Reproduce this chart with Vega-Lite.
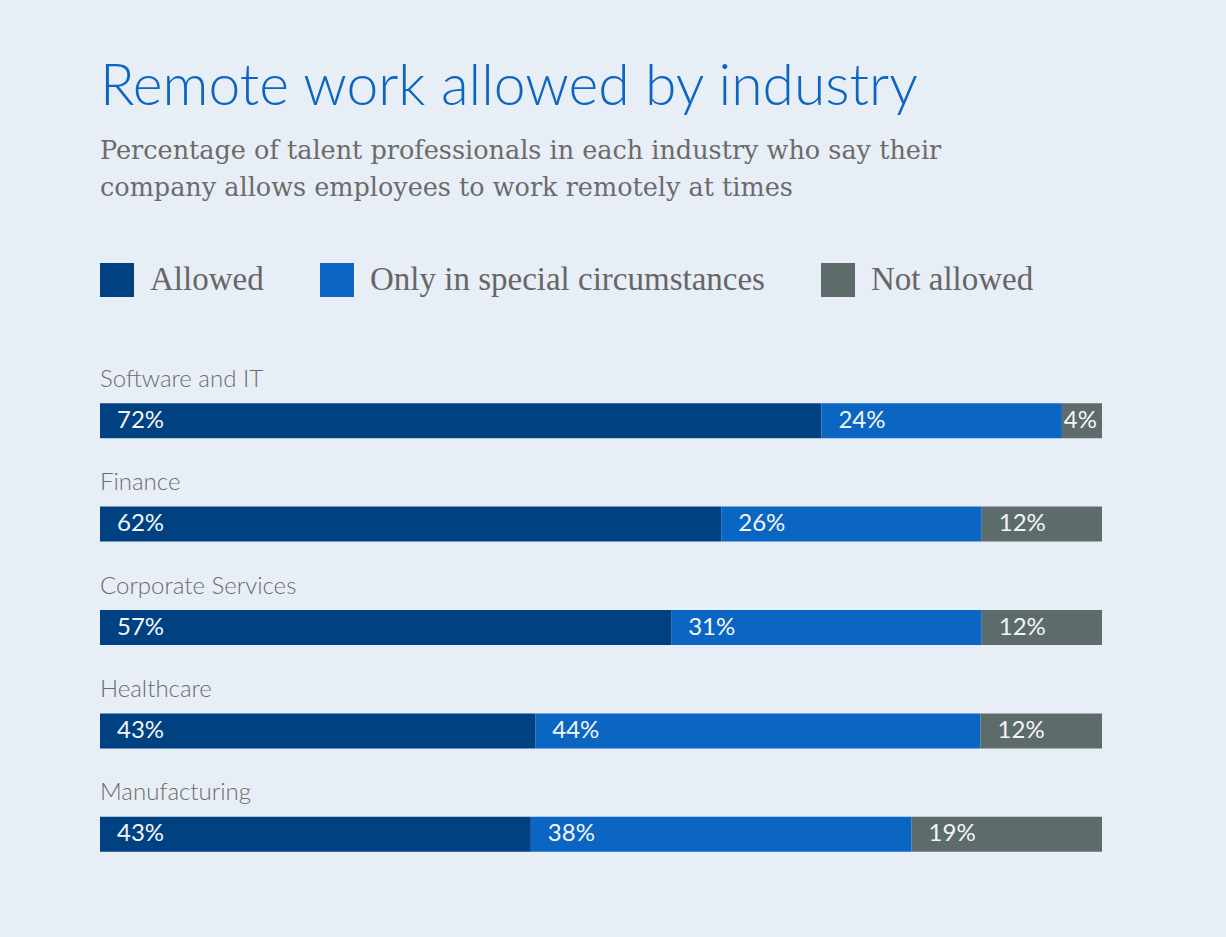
{
  "$schema": "https://vega.github.io/schema/vega-lite/v6.json",
  "width": 1002,
  "height": 517,
  "autosize": {"type": "none"},
  "padding": {"left": 100, "top": 369, "right": 124, "bottom": 51},
  "background": "#e8eef6",
  "title": {
    "text": "Remote work allowed by industry",
    "subtitle": ["Percentage of talent professionals in each industry who say their", "company allows employees to work remotely at times"],
    "anchor": "start",
    "frame": "group",
    "font": "Lato",
    "fontSize": 57,
    "fontWeight": 300,
    "color": "#0a66c2",
    "subtitleFont": "DejaVu Serif",
    "subtitleFontSize": 25.5,
    "subtitleColor": "#6b6b6b",
    "subtitleLineHeight": 37,
    "subtitlePadding": 22,
    "offset": 61
  },
  "config": {"view": {"stroke": null}},
  "data": {
    "values": [
      {"industry": "Software and IT", "status": "Allowed", "k": 1, "value": 0.72},
      {"industry": "Software and IT", "status": "Only in special circumstances", "k": 2, "value": 0.24},
      {"industry": "Software and IT", "status": "Not allowed", "k": 3, "value": 0.04},
      {"industry": "Finance", "status": "Allowed", "k": 1, "value": 0.62},
      {"industry": "Finance", "status": "Only in special circumstances", "k": 2, "value": 0.26},
      {"industry": "Finance", "status": "Not allowed", "k": 3, "value": 0.12},
      {"industry": "Corporate Services", "status": "Allowed", "k": 1, "value": 0.57},
      {"industry": "Corporate Services", "status": "Only in special circumstances", "k": 2, "value": 0.31},
      {"industry": "Corporate Services", "status": "Not allowed", "k": 3, "value": 0.12},
      {"industry": "Healthcare", "status": "Allowed", "k": 1, "value": 0.43},
      {"industry": "Healthcare", "status": "Only in special circumstances", "k": 2, "value": 0.44},
      {"industry": "Healthcare", "status": "Not allowed", "k": 3, "value": 0.12},
      {"industry": "Manufacturing", "status": "Allowed", "k": 1, "value": 0.43},
      {"industry": "Manufacturing", "status": "Only in special circumstances", "k": 2, "value": 0.38},
      {"industry": "Manufacturing", "status": "Not allowed", "k": 3, "value": 0.19}
    ]
  },
  "transform": [
    {"stack": "value", "groupby": ["industry"], "sort": [{"field": "k", "order": "ascending"}], "offset": "normalize", "as": ["x0", "x1"]}
  ],
  "encoding": {
    "y": {
      "field": "industry",
      "type": "nominal",
      "sort": ["Software and IT", "Finance", "Corporate Services", "Healthcare", "Manufacturing"],
      "axis": null,
      "scale": {"paddingInner": 0, "paddingOuter": 0}
    }
  },
  "layer": [
    {
      "mark": {"type": "bar", "height": 35},
      "encoding": {
        "x": {"field": "x0", "type": "quantitative", "axis": null, "scale": {"domain": [0, 1]}},
        "x2": {"field": "x1"},
        "color": {
          "field": "status",
          "type": "nominal",
          "scale": {"domain": ["Allowed", "Only in special circumstances", "Not allowed"], "range": ["#004182", "#0a66c2", "#5e6b6b"]},
          "legend": {
            "orient": "none",
            "legendX": 0,
            "legendY": -106,
            "direction": "horizontal",
            "title": null,
            "symbolType": "square",
            "symbolSize": 1156,
            "symbolStrokeWidth": 0,
            "symbolOpacity": 1,
            "labelFont": "Liberation Serif",
            "labelFontSize": 33,
            "labelColor": "#666666",
            "labelOffset": 16,
            "columnPadding": 56,
            "labelLimit": 0
          }
        }
      }
    },
    {
      "transform": [{"filter": "datum.value >= 0.08"}],
      "mark": {"type": "text", "align": "left", "baseline": "middle", "dx": 17, "font": "Lato", "fontSize": 24, "color": "#f2f5f8"},
      "encoding": {
        "x": {"field": "x0", "type": "quantitative"},
        "text": {"field": "value", "type": "quantitative", "format": ".0%"}
      }
    },
    {
      "transform": [{"filter": "datum.value < 0.08"}],
      "mark": {"type": "text", "align": "right", "baseline": "middle", "dx": -5, "font": "Lato", "fontSize": 24, "color": "#f2f5f8"},
      "encoding": {
        "x": {"field": "x1", "type": "quantitative"},
        "text": {"field": "value", "type": "quantitative", "format": ".0%"}
      }
    },
    {
      "transform": [{"filter": "datum.k == 1"}],
      "mark": {"type": "text", "align": "left", "baseline": "alphabetic", "dy": -34, "font": "Lato", "fontSize": 24, "fontWeight": 300, "color": "#6b6b6b"},
      "encoding": {
        "x": {"datum": 0, "type": "quantitative"},
        "text": {"field": "industry", "type": "nominal"}
      }
    }
  ]
}
